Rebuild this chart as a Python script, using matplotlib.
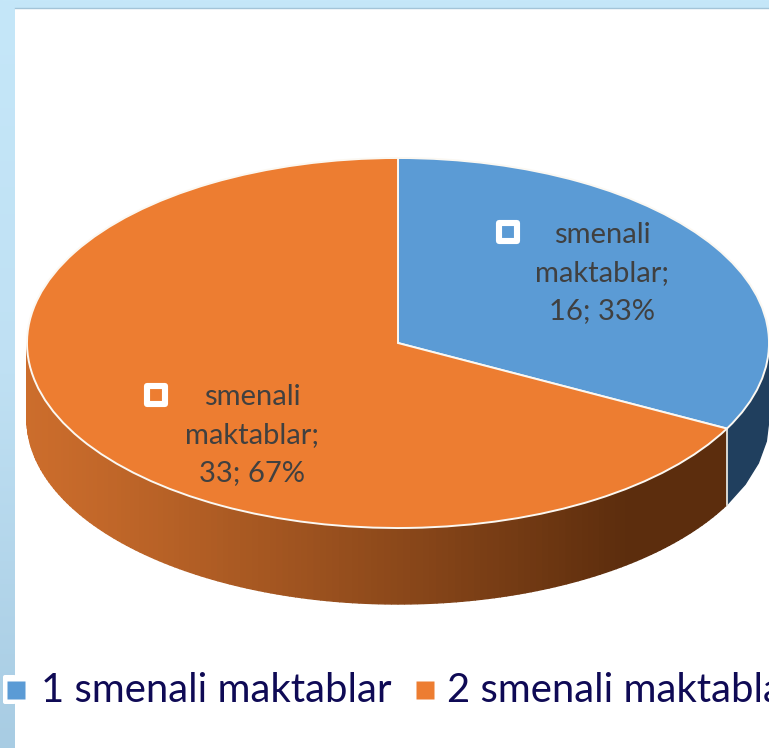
import numpy as np
import matplotlib
matplotlib.use('Agg')
import matplotlib.pyplot as plt
from matplotlib.markers import MarkerStyle
from matplotlib.colors import to_rgb, LinearSegmentedColormap
from matplotlib.patches import FancyBboxPatch

plt.rcParams['font.family'] = ['Lato', 'DejaVu Sans']

categories = ['1 smenali maktablar', '2 smenali maktablar']
values = [16, 33]
percents = [33, 67]
slice_labels = ['smenali\nmaktablar;', 'smenali\nmaktablar;']
colors = ['#5B9BD5', '#ED7D31']

W, H = 769, 748
CX, CY, RX, RY, DEPTH = 398, 343, 371, 185, 76

fig = plt.figure(figsize=(W / 100, H / 100), dpi=100, facecolor='white')

# backdrop: light-blue slide gradient with white chart panel
bg = fig.add_axes([0, 0, 1, 1], zorder=0)
bg.axis('off')
cmap = LinearSegmentedColormap.from_list('slide', ['#C5E7F9', '#BFE0F3', '#A8CCE3'])
bg.imshow(np.linspace(0, 1, 256)[:, None], extent=[0, W, H, 0], cmap=cmap, aspect='auto', zorder=0)
bg.fill_between([15, W], 7.5, H, color='white', lw=0, zorder=1)
bg.plot([15, W], [7.5, 7.5], color='#A3C4D8', lw=1, zorder=2)
bg.set_xlim(0, W); bg.set_ylim(H, 0)

# pie, in axes whose units are the ellipse radii
ax = fig.add_axes([0, 0, 1, 1], zorder=1)
wedges, _ = ax.pie(values, colors=colors, startangle=90, counterclock=False,
                   radius=1, center=(0, 0),
                   wedgeprops=dict(edgecolor='#FBF8F2', linewidth=1.4))
for w in wedges:
    w.set_zorder(5)
ax.set_aspect('auto')
ax.set_xlim(-CX / RX, (W - CX) / RX)
ax.set_ylim(-(H - CY) / RY, CY / RY)
ax.patch.set_alpha(0)
ax.axis('off')

# side wall derived from the same values
fracs = np.cumsum([0] + values) / sum(values)
bounds = 90 - fracs * 360            # degrees, clockwise from the top
d = DEPTH / RY
shade_l, shade_r = np.array(to_rgb('#CC6D2C')), np.array(to_rgb('#5C2D0D'))
blue_side = '#203F5E'

def wall(a0, a1, color):
    t = np.radians(np.linspace(a0, a1, 5))
    x, y = np.cos(t), np.sin(t)
    ax.fill(np.r_[x, x[::-1]], np.r_[y, y[::-1] - d], fc=color, ec=color, lw=1.0, zorder=2)

orange_end = bounds[1]               # negative angle (lower right)
for a0 in np.arange(-180, orange_end, 1.0):
    a1 = min(a0 + 1.0, orange_end)
    x = np.cos(np.radians((a0 + a1) / 2))
    f = np.clip((x + 1) / 1.62, 0, 1) ** 1.15
    wall(a0, a1, shade_l + (shade_r - shade_l) * f)
wall(orange_end, 0, blue_side)
xb, yb = np.cos(np.radians(orange_end)), np.sin(np.radians(orange_end))
ax.plot([xb, xb], [yb, yb - d], color='#E8E4DC', lw=1.3, zorder=3)

# overlay for labels and legend, in pixels
ov = fig.add_axes([0, 0, 1, 1], zorder=2)
ov.set_xlim(0, W); ov.set_ylim(H, 0); ov.axis('off'); ov.patch.set_alpha(0)

label_pos = [(602, 273), (252, 435)]
marker_pos = [(508, 232), (156, 395)]
for v, p, s, pos, mp, c in zip(values, percents, slice_labels, label_pos, marker_pos, colors):
    ov.text(pos[0], pos[1], f'{s}\n{v}; {p}%', ha='center', va='center', fontsize=21,
            color='#404040', linespacing=1.56)
    ov.plot(*mp, marker=MarkerStyle('s', joinstyle='round'), ms=13, mfc=c, mec='white', mew=4.4)

ov.add_patch(FancyBboxPatch((5, 677), 9, 25, boxstyle='round,pad=2', fc='white', ec='none', zorder=1))
legend_x = [(16, 41), (425, 447)]
for cat, c, (mx, tx) in zip(categories, colors, legend_x):
    ov.plot(mx, 690, marker='s', ms=12.5, mfc=c, mec='none', zorder=3)
    ov.text(tx, 690, cat, ha='left', va='center', fontsize=28.8, color='#0F0A55', zorder=3)

fig.savefig('out.png', dpi=100)
